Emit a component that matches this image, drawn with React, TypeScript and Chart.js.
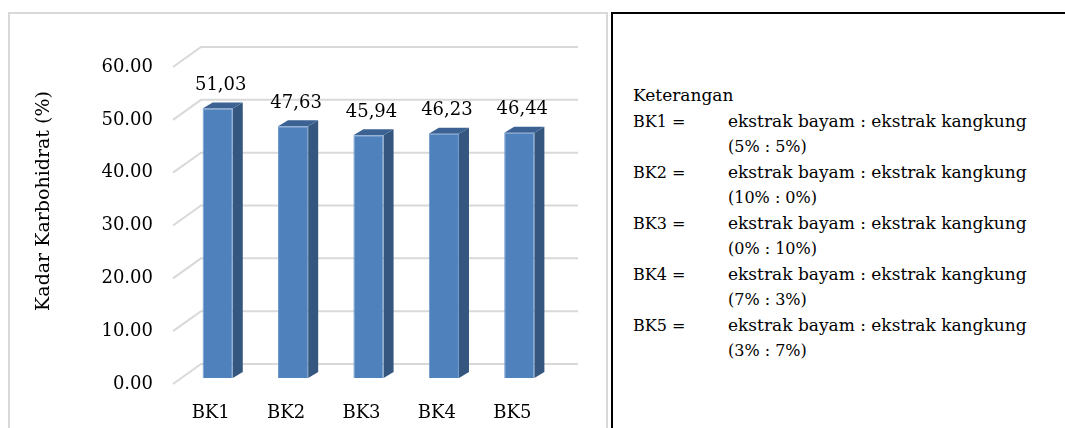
import React, { useEffect, useRef } from "react";
import { Chart, registerables } from "chart.js";

Chart.register(...registerables);

// ---- data ----
const categories = ["BK1", "BK2", "BK3", "BK4", "BK5"];
const carbValues = [51.03, 47.63, 45.94, 46.23, 46.44];
const yTickMin = 0;
const yTickMax = 60;
const yTickStep = 10;
const yTitle = "Kadar Karbohidrat (%)";
const legendTitle = "Keterangan";
const legendCodes = ["BK1 =", "BK2 =", "BK3 =", "BK4 =", "BK5 ="];
const legendDescs = [
  "ekstrak bayam : ekstrak kangkung",
  "ekstrak bayam : ekstrak kangkung",
  "ekstrak bayam : ekstrak kangkung",
  "ekstrak bayam : ekstrak kangkung",
  "ekstrak bayam : ekstrak kangkung",
];
const legendRatios = ["(5% : 5%)", "(10% : 0%)", "(0% : 10%)", "(7% : 3%)", "(3% : 7%)"];

// ---- style ----
const FONT = "'DejaVu Serif', serif";
const FRONT = "#4f81bd";
const SIDE = "#34567f";
const TOP = "#3c6293";
const GRID = "#d9d9d9";
const BAR_DX = 7;
const BAR_DY = -6;
const DEPTH_X = 10;
const DEPTH_Y = -6;
const BACK_DX = 28;
const BACK_DY = -20;

const fmtComma = (v: number) => v.toFixed(2).replace(".", ",");

const threeDPlugin = {
  id: "threeD",
  beforeDatasetsDraw(chart: any) {
    const { ctx, chartArea } = chart;
    const y = chart.scales.y;
    ctx.save();
    ctx.strokeStyle = GRID;
    ctx.lineWidth = 2;
    y.ticks.forEach((t: any) => {
      const py = y.getPixelForValue(t.value);
      ctx.beginPath();
      ctx.moveTo(chartArea.left, py);
      ctx.lineTo(chartArea.left + BACK_DX, py + BACK_DY);
      ctx.lineTo(chartArea.right + BACK_DX, py + BACK_DY);
      ctx.stroke();
    });
    ctx.restore();

    const meta = chart.getDatasetMeta(0);
    ctx.save();
    ctx.translate(BAR_DX, BAR_DY);
    meta.data.forEach((bar: any) => {
      const { x, y: top, base, width } = bar.getProps(["x", "y", "base", "width"], true);
      const l = x - width / 2;
      const r = x + width / 2;
      ctx.fillStyle = SIDE;
      ctx.beginPath();
      ctx.moveTo(r, top);
      ctx.lineTo(r + DEPTH_X, top + DEPTH_Y);
      ctx.lineTo(r + DEPTH_X, base + DEPTH_Y);
      ctx.lineTo(r, base);
      ctx.closePath();
      ctx.fill();
      ctx.fillStyle = TOP;
      ctx.beginPath();
      ctx.moveTo(l, top);
      ctx.lineTo(l + DEPTH_X, top + DEPTH_Y);
      ctx.lineTo(r + DEPTH_X, top + DEPTH_Y);
      ctx.lineTo(r, top);
      ctx.closePath();
      ctx.fill();
    });
    // stays translated while Chart.js draws the front faces
  },
  afterDatasetsDraw(chart: any) {
    const { ctx } = chart;
    ctx.restore();
    const meta = chart.getDatasetMeta(0);
    ctx.save();
    ctx.fillStyle = "#000";
    ctx.font = `18px ${FONT}`;
    ctx.textAlign = "center";
    ctx.textBaseline = "middle";
    meta.data.forEach((bar: any, i: number) => {
      const { x, y } = bar.getProps(["x", "y"], true);
      ctx.fillText(fmtComma(carbValues[i]), x + BAR_DX + 3, y + BAR_DY - 23);
    });
    ctx.translate(44, 201);
    ctx.rotate(-Math.PI / 2);
    ctx.font = `19px ${FONT}`;
    ctx.fillText(yTitle, 0, 0);
    ctx.restore();
  },
};

function BarChart() {
  const ref = useRef<HTMLCanvasElement | null>(null);
  useEffect(() => {
    if (!ref.current) return;
    const chart = new Chart(ref.current, {
      type: "bar",
      data: {
        labels: categories,
        datasets: [
          {
            data: carbValues,
            backgroundColor: FRONT,
            borderColor: "#6e98cc",
            borderWidth: 1,
            barPercentage: 0.4,
            categoryPercentage: 1,
            clip: false as any,
          },
        ],
      },
      options: {
        animation: false,
        responsive: true,
        maintainAspectRatio: false,
        layout: { padding: { left: 0, top: 67, right: 60, bottom: 0 } },
        plugins: { legend: { display: false }, tooltip: { enabled: false } },
        scales: {
          x: {
            grid: { display: false },
            border: { display: false },
            ticks: { color: "#000", font: { family: FONT, size: 18 }, padding: 11 },
            afterFit: (s: any) => {
              s.height = 44;
            },
          },
          y: {
            min: yTickMin,
            max: yTickMax,
            grid: { display: false, drawTicks: false },
            border: { display: false },
            ticks: {
              stepSize: yTickStep,
              color: "#000",
              font: { family: FONT, size: 18 },
              padding: 20,
              callback: (v: any) => Number(v).toFixed(2),
            },
            afterFit: (s: any) => {
              s.width = 173;
            },
          },
        },
      },
      plugins: [threeDPlugin],
    });
    return () => chart.destroy();
  }, []);
  return (
    <div style={{ position: "absolute", left: 0, top: 0, width: 610, height: 428 }}>
      <canvas ref={ref} />
    </div>
  );
}

export default function App() {
  const lineH = 25.5;
  const top0 = 83;
  const rows: { code?: string; codeSize?: number; text: string; size: number }[] = [];
  rows.push({ code: legendTitle, codeSize: 17, text: "", size: 16 });
  legendCodes.forEach((c, i) => {
    rows.push({ code: c, codeSize: 16, text: legendDescs[i], size: 17 });
    rows.push({ text: legendRatios[i], size: 16 });
  });
  return (
    <div
      style={{
        position: "fixed",
        left: 0,
        top: 0,
        width: 1065,
        height: 428,
        overflow: "hidden",
        background: "#fff",
        fontFamily: FONT,
      }}
    >
      <div
        style={{
          position: "absolute",
          left: 8,
          top: 12,
          width: 600,
          height: 440,
          border: `2px solid ${GRID}`,
          boxSizing: "border-box",
        }}
      />
      <BarChart />
      <div
        style={{
          position: "absolute",
          left: 611,
          top: 12,
          width: 470,
          height: 440,
          border: "2px solid #000",
          boxSizing: "border-box",
        }}
      />
      {rows.map((r, k) => (
        <div
          key={k}
          style={{
            position: "absolute",
            top: top0 + k * lineH,
            left: 633,
            height: lineH,
            lineHeight: `${lineH}px`,
            whiteSpace: "nowrap",
            color: "#000",
          }}
        >
          {r.code !== undefined && (
            <span style={{ position: "absolute", left: 0, fontSize: r.codeSize }}>{r.code}</span>
          )}
          <span style={{ position: "absolute", left: 95, fontSize: r.size }}>{r.text}</span>
        </div>
      ))}
    </div>
  );
}
